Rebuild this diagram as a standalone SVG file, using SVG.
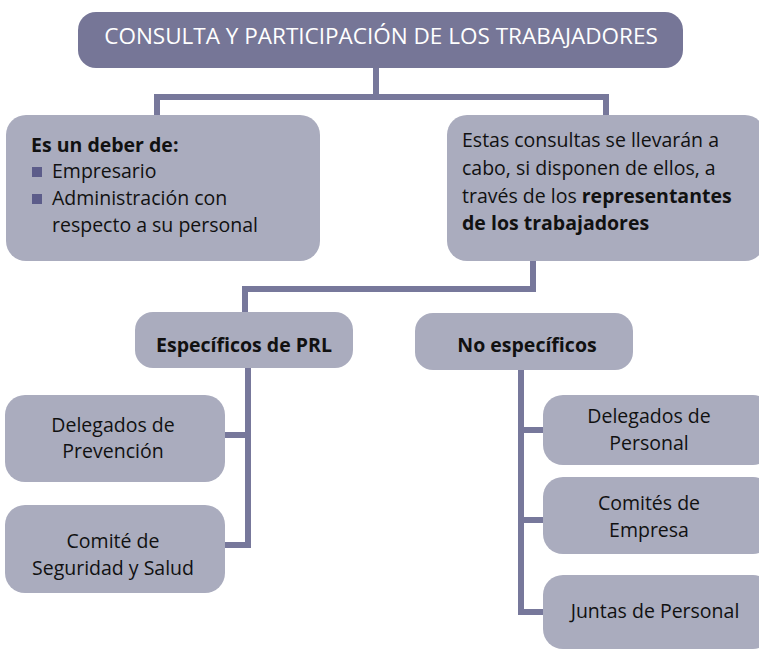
<svg xmlns="http://www.w3.org/2000/svg" width="759" height="649" viewBox="0 0 759 649">
<style>
.box{fill:#aaacbe}
.title{fill:#767697}
.ln{stroke:#77789b;stroke-width:6;fill:none}
text{font-family:"Open Sans","Liberation Sans",sans-serif;font-size:19.5px;fill:#111}
.c{text-anchor:middle}
.b{font-weight:bold}
.bul{fill:#5c5c8a}
</style>
<rect width="759" height="649" fill="#fff"/>
<g id="connectors">
<path class="ln" d="M376 66V97M157 97H606M157 94V118M606 94V118"/>
<path class="ln" d="M533 258V289M245 289H536M245 286V314"/>
<path class="ln" d="M248 366V548M222 435H251M222 545H251"/>
<path class="ln" d="M521 368V615M518 430H545M518 520H545M518 612H545"/>
</g>
<g id="title">
<rect class="title" x="78" y="12" width="605" height="56" rx="18"/>
<text class="c" x="381" y="43.5" style="fill:#fff;font-size:22.5px">CONSULTA Y PARTICIPACIÓN DE LOS TRABAJADORES</text>
</g>
<g id="deber">
<rect class="box" x="6" y="115" width="314" height="146" rx="20"/>
<text class="b" x="31" y="152">Es un deber de:</text>
<rect class="bul" x="32" y="167" width="10" height="10"/>
<text x="52" y="178">Empresario</text>
<rect class="bul" x="32" y="194" width="10" height="10"/>
<text x="52" y="205">Administración con</text>
<text x="52" y="232">respecto a su personal</text>
</g>
<g id="consultas">
<rect class="box" x="447" y="115" width="318" height="146" rx="20"/>
<text x="462" y="147">Estas consultas se llevarán a</text>
<text x="462" y="175">cabo, si disponen de ellos, a</text>
<text x="462" y="203">través de los <tspan class="b">representantes</tspan></text>
<text class="b" x="462" y="230">de los trabajadores</text>
</g>
<g id="especificos">
<rect class="box" x="135" y="312" width="218" height="56" rx="18"/>
<text class="c b" x="244" y="352">Específicos de PRL</text>
</g>
<g id="noespecificos">
<rect class="box" x="415" y="313" width="218" height="57" rx="18"/>
<text class="c b" x="527" y="352">No específicos</text>
</g>
<g id="delegados-prevencion">
<rect class="box" x="5" y="395" width="220" height="87" rx="20"/>
<text class="c" x="113" y="432">Delegados de</text>
<text class="c" x="113" y="458">Prevención</text>
</g>
<g id="comite-seguridad">
<rect class="box" x="5" y="505" width="220" height="88" rx="20"/>
<text class="c" x="113" y="548">Comité de</text>
<text class="c" x="113" y="575">Seguridad y Salud</text>
</g>
<g id="delegados-personal">
<rect class="box" x="543" y="395" width="230" height="70" rx="20"/>
<text class="c" x="649" y="423">Delegados de</text>
<text class="c" x="649" y="450">Personal</text>
</g>
<g id="comites-empresa">
<rect class="box" x="543" y="477" width="230" height="77" rx="20"/>
<text class="c" x="649" y="510">Comités de</text>
<text class="c" x="649" y="537">Empresa</text>
</g>
<g id="juntas-personal">
<rect class="box" x="543" y="575" width="230" height="74" rx="20"/>
<text class="c" x="655" y="618">Juntas de Personal</text>
</g>
</svg>
